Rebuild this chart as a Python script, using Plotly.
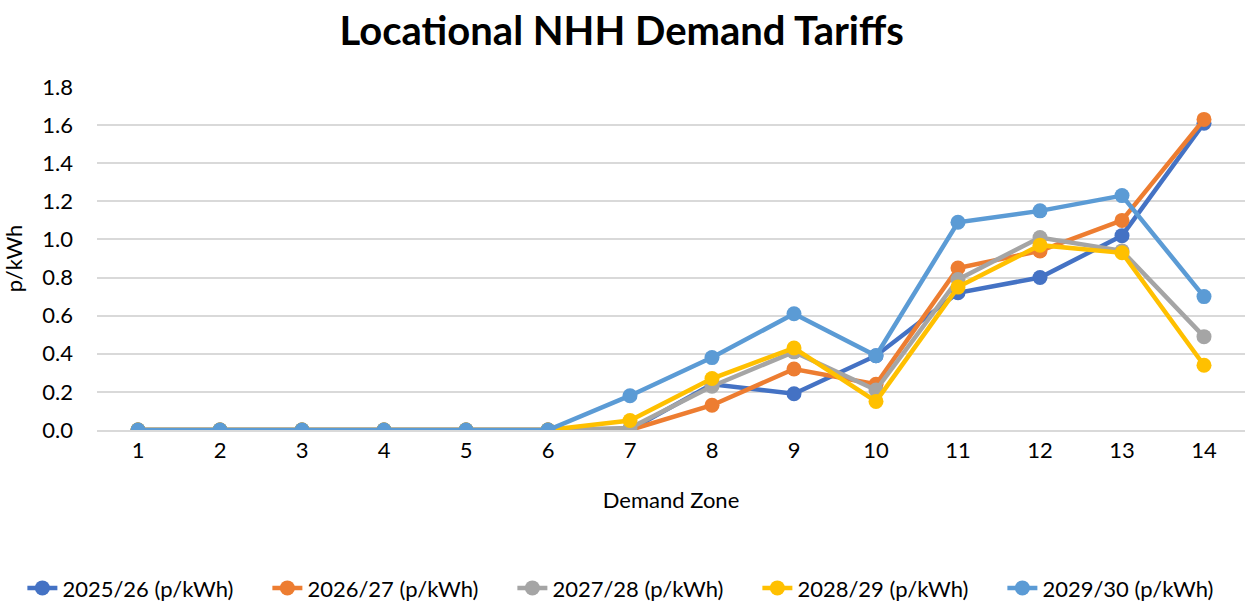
import plotly.graph_objects as go

zones = list(range(1, 15))

tariff_2025 = [0, 0, 0, 0, 0, 0, 0.00, 0.24, 0.19, 0.39, 0.72, 0.80, 1.02, 1.61]
tariff_2026 = [0, 0, 0, 0, 0, 0, 0.00, 0.13, 0.32, 0.24, 0.85, 0.94, 1.10, 1.63]
tariff_2027 = [0, 0, 0, 0, 0, 0, 0.01, 0.23, 0.41, 0.21, 0.79, 1.01, 0.94, 0.49]
tariff_2028 = [0, 0, 0, 0, 0, 0, 0.05, 0.27, 0.43, 0.15, 0.75, 0.97, 0.93, 0.34]
tariff_2029 = [0, 0, 0, 0, 0, 0, 0.18, 0.38, 0.61, 0.39, 1.09, 1.15, 1.23, 0.70]

series_names = ["2025/26 (p/kWh)", "2026/27 (p/kWh)", "2027/28 (p/kWh)",
                "2028/29 (p/kWh)", "2029/30 (p/kWh)"]
series_values = [tariff_2025, tariff_2026, tariff_2027, tariff_2028, tariff_2029]
colors = ["#4472C4", "#ED7D31", "#A5A5A5", "#FFC000", "#5B9BD5"]

y_ticks = [0, 0.2, 0.4, 0.6, 0.8, 1.0, 1.2, 1.4, 1.6, 1.8]

FONT = "Lato, 'Open Sans', sans-serif"

fig = go.Figure()
for name, vals, col in zip(series_names, series_values, colors):
    fig.add_trace(go.Scatter(
        x=zones, y=vals, name=name,
        mode="lines+markers",
        line=dict(color=col, width=4.5),
        marker=dict(color=col, size=15),
    ))

fig.update_layout(
    width=1256, height=602,
    margin=dict(l=97, r=11, t=87, b=172, autoexpand=False),
    paper_bgcolor="white", plot_bgcolor="white",
    font=dict(family=FONT, size=22, color="#000000"),
    title=dict(text="<b>Locational NHH Demand Tariffs</b>",
               x=0.495, xanchor="center", y=0.948, yanchor="middle",
               font=dict(size=40, family=FONT, color="#000000")),
    showlegend=True,
    legend=dict(orientation="h", x=-0.065, xanchor="left", y=-0.461, yanchor="middle",
                font=dict(size=22), entrywidth=200, entrywidthmode="pixels",
                traceorder="normal"),
    xaxis=dict(range=[0.5, 14.5], tickmode="array", tickvals=zones,
               ticktext=[str(z) for z in zones], showgrid=False, zeroline=False,
               showline=True, linecolor="#D9D9D9", linewidth=1.5,
               ticks="", tickfont=dict(size=22), automargin=False,
               title=dict(text="Demand Zone", font=dict(size=22), standoff=30)),
    yaxis=dict(range=[0, 1.8], tickmode="array", tickvals=y_ticks,
               ticktext=[f"{v:.1f}" for v in y_ticks],
               showgrid=True, gridcolor="#D9D9D9", gridwidth=1.5,
               zeroline=False, ticks="", tickfont=dict(size=22), automargin=False,
               ticklabelstandoff=23,
               title=dict(text="p/kWh", font=dict(size=22), standoff=17)),
)

fig.write_html("out.html", config={"displayModeBar": False},
               post_script="document.body.style.margin='0';")
